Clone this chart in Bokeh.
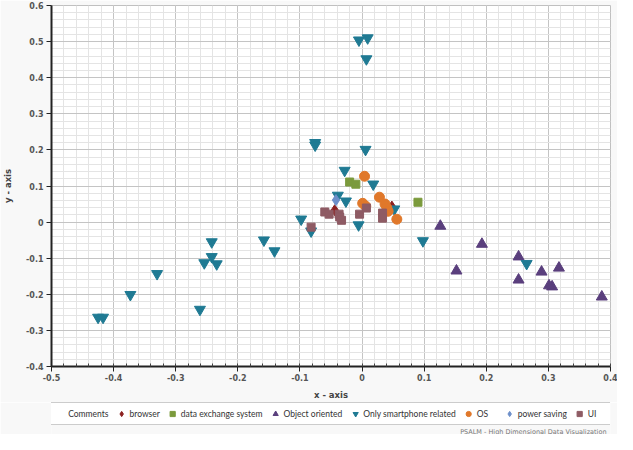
from bokeh.plotting import figure
from bokeh.models import (FixedTicker, NumeralTickFormatter, Legend, LegendItem,
                          ColumnDataSource, Label, Range1d)
from bokeh.layouts import column
from bokeh.embed import file_html
from bokeh.resources import INLINE
import numpy as np

# ---------------- data ----------------
x_ticks = [-0.5, -0.4, -0.3, -0.2, -0.1, 0.0, 0.1, 0.2, 0.3, 0.4]
y_ticks = [-0.4, -0.3, -0.2, -0.1, 0.0, 0.1, 0.2, 0.3, 0.4, 0.5, 0.6]

comments_x = []
comments_y = []

browser_x = [-0.044, 0.048]
browser_y = [0.033, 0.043]

dex_x = [-0.020, -0.010, 0.090]
dex_y = [0.111, 0.105, 0.055]

oo_x = [0.126, 0.193, 0.152, 0.252, 0.252, 0.289, 0.317, 0.306, 0.301, 0.386]
oo_y = [-0.011, -0.061, -0.135, -0.096, -0.160, -0.138, -0.127, -0.179, -0.176, -0.207]

smart_x = [-0.005, 0.009, 0.007, -0.0755, -0.0755, 0.0056, -0.028, 0.018, -0.039, -0.026,
           -0.098, -0.082, -0.0056, 0.052, 0.098, -0.242, -0.242, -0.254, -0.234, -0.330,
           -0.373, -0.261, -0.425, -0.417, -0.158, -0.141, 0.265]
smart_y = [0.504, 0.510, 0.452, 0.220, 0.213, 0.201, 0.143, 0.105, 0.074, 0.058,
           0.008, -0.025, -0.008, 0.036, -0.052, -0.055, -0.096, -0.113, -0.116, -0.143,
           -0.201, -0.242, -0.264, -0.264, -0.050, -0.080, -0.115]

os_x = [0.004, 0.028, 0.001, 0.037, 0.040, 0.042, 0.056, 0.006]
os_y = [0.127, 0.069, 0.052, 0.050, 0.039, 0.030, 0.008, 0.044]

ps_x = [-0.042]
ps_y = [0.061]

ui_x = [-0.060, -0.053, -0.037, -0.036, -0.033, -0.004, 0.007, 0.033, 0.033, -0.082]
ui_y = [0.028, 0.022, 0.022, 0.014, 0.005, 0.022, 0.039, 0.025, 0.011, -0.014]

series = [
    ("Comments", comments_x, comments_y, "circle", "#ffffff", 9),
    ("browser", browser_x, browser_y, "diamond", "#8b1f1f", 11),
    ("data exchange system", dex_x, dex_y, "square", "#7b9a3c", 8),
    ("Object oriented", oo_x, oo_y, "triangle", "#5a3f7d", 11),
    ("Only smartphone related", smart_x, smart_y, "inverted_triangle", "#1f7a93", 11),
    ("OS", os_x, os_y, "circle", "#e0782a", 10),
    ("power saving", ps_x, ps_y, "diamond", "#6d8fc9", 11),
    ("UI", ui_x, ui_y, "square", "#8e5b64", 8),
]

BG = "#f8f8f8"

# ---------------- main figure ----------------
p = figure(width=617, height=402, output_backend="svg", toolbar_location=None,
           x_range=Range1d(-0.5, 0.4), y_range=Range1d(-0.4, 0.6),
           min_border_left=44, min_border_right=7, min_border_top=5, min_border_bottom=33,
           background_fill_color="#ffffff", border_fill_color=BG)
p.outline_line_color = "#c0c0c0"

p.xaxis.ticker = FixedTicker(ticks=x_ticks, minor_ticks=list(np.round(np.arange(-0.5, 0.4001, 0.02), 3)))
p.yaxis.ticker = FixedTicker(ticks=y_ticks, minor_ticks=list(np.round(np.arange(-0.4, 0.6001, 0.02), 3)))
p.xaxis.formatter = NumeralTickFormatter(format="0.[0]")
p.yaxis.formatter = NumeralTickFormatter(format="0.[0]")
p.xaxis.axis_label = "x - axis"
p.yaxis.axis_label = "y - axis"
for ax in (p.xaxis[0], p.yaxis[0]):
    ax.axis_line_color = "#222222"
    ax.axis_line_width = 2
    ax.major_tick_line_color = "#222222"
    ax.major_tick_out = 5
    ax.major_tick_in = 0
    ax.major_label_text_font = "DejaVu Sans"
    ax.major_label_text_font_size = "8px"
    ax.major_label_text_font_style = "bold"
    ax.major_label_text_color = "#555555"
    ax.axis_label_text_font = "DejaVu Sans"
    ax.axis_label_text_font_size = "8.5px"
    ax.axis_label_text_font_style = "bold"
    ax.axis_label_text_color = "#444444"
p.xaxis.minor_tick_in = 3
p.xaxis.minor_tick_out = 0
p.xaxis.minor_tick_line_color = "#444444"
p.yaxis.minor_tick_line_color = None
p.xaxis.axis_label_standoff = 6
p.yaxis.axis_label_standoff = 10
p.xaxis.major_label_standoff = 2
p.yaxis.major_label_standoff = 3

for g in (p.xgrid[0], p.ygrid[0]):
    g.grid_line_color = "#c4c4c4"
    g.grid_line_width = 1
    g.minor_grid_line_color = "#e4e4e4"
    g.minor_grid_line_width = 1

for name, xs, ys, marker, color, size in series:
    src = ColumnDataSource(dict(x=xs, y=ys))
    p.scatter("x", "y", source=src, marker=marker, size=size,
              fill_color=color, line_color=color, fill_alpha=1.0)

# ---------------- legend strip (same series, ranges far away so only the legend shows) ----
q = figure(width=617, height=32, output_backend="svg", toolbar_location=None,
           x_axis_type=None, y_axis_type=None, min_border=0,
           x_range=Range1d(100, 101), y_range=Range1d(100, 101),
           background_fill_color=BG, border_fill_color=BG)
q.outline_line_color = None
q.grid.visible = False

items = []
for name, xs, ys, marker, color, size in series:
    r = q.scatter(xs, ys, marker=marker, size=size, fill_color=color, line_color=color)
    items.append(LegendItem(label=name, renderers=[r]))

legend = Legend(items=items, orientation="horizontal", location="top_center",
                label_text_font="Lato", label_text_font_size="8.5px",
                label_text_color="#333333", glyph_width=13, glyph_height=15,
                spacing=6, label_standoff=2, padding=3, margin=0,
                border_line_color="#9a9a9a", border_line_width=1.5,
                background_fill_color="#ffffff", label_height=10)
q.add_layout(legend, "center")

credit = Label(x=555, y=-1, x_units="screen", y_units="screen",
               text="PSALM - High Dimensional Data Visualization", text_align="right",
               text_baseline="bottom", text_font="DejaVu Sans", text_font_size="6.5px",
               text_color="#777777")
q.add_layout(credit)

layout = column(p, q, spacing=0)
open("out.html", "w").write(file_html(layout, INLINE))
